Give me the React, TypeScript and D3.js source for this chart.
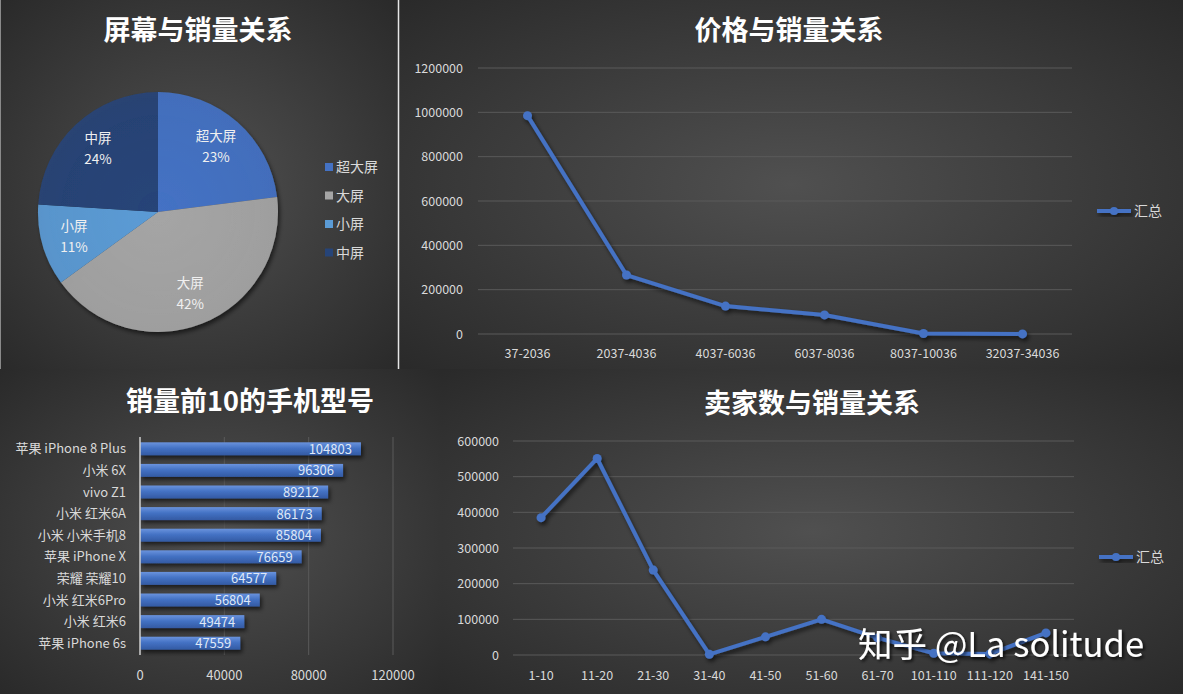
import React from 'react';
import { arc, line, pie, scaleBand, scaleLinear } from 'd3';

// 屏幕 pie
const screenLabels = ['超大屏', '大屏', '小屏', '中屏'];
const screenShares = [23, 42, 11, 24];
const screenColors = ['#4472C4', '#A5A5A5', '#5B9BD5', '#264478'];

// 价格与销量
const priceBins = ['37-2036', '2037-4036', '4037-6036', '6037-8036', '8037-10036', '32037-34036'];
const priceSales = [985000, 266000, 126000, 86000, 2000, 500];
const priceTicks = [0, 200000, 400000, 600000, 800000, 1000000, 1200000];

// 销量前10
const phoneModels = [
  '苹果 iPhone 8 Plus',
  '小米 6X',
  'vivo Z1',
  '小米 红米6A',
  '小米 小米手机8',
  '苹果 iPhone X',
  '荣耀 荣耀10',
  '小米 红米6Pro',
  '小米 红米6',
  '苹果 iPhone 6s',
];
const phoneSales = [104803, 96306, 89212, 86173, 85804, 76659, 64577, 56804, 49474, 47559];
const phoneTicks = [0, 40000, 80000, 120000];

// 卖家数与销量
const sellerBins = ['1-10', '11-20', '21-30', '31-40', '41-50', '51-60', '61-70', '101-110', '111-120', '141-150'];
const sellerSales = [385000, 551000, 238000, 2000, 51000, 100000, 48000, 5000, 3000, 62000];
const sellerTicks = [0, 100000, 200000, 300000, 400000, 500000, 600000];

const CJK = '"Noto Sans CJK SC", "Noto Sans", sans-serif';
const LABEL = '#d9d9d9';
const GRID = '#5a5a5a';
const BLUE = '#4472C4';

function Panel({ x, y, w, h }: { x: number; y: number; w: number; h: number }) {
  return <rect x={x} y={y} width={w} height={h} fill="url(#bg)" />;
}

function Title({ x, y, text }: { x: number; y: number; text: string }) {
  return (
    <text x={x} y={y} textAnchor="middle" fill="#fff" fontSize={27} fontWeight="bold" fontFamily={CJK}>
      {text}
    </text>
  );
}

function PieChart() {
  const cx = 158;
  const cy = 212;
  const r = 120;
  const arcs = pie<number>().sort(null)(screenShares);
  const shape = arc<any>().innerRadius(0).outerRadius(r);
  const labelArc = arc<any>().innerRadius(r * 0.73).outerRadius(r * 0.73);
  return (
    <g>
      <Title x={198} y={40} text="屏幕与销量关系" />
      <g transform={`translate(${cx},${cy})`} filter="url(#shadow)">
        {arcs.map((a, i) => (
          <path key={i} d={shape(a) || ''} fill={`url(#pie${i})`} />
        ))}
      </g>
      <g transform={`translate(${cx},${cy})`}>
        {arcs.map((a, i) => {
          const [lx, ly] = labelArc.centroid(a);
          return (
            <text key={i} x={lx} y={ly} textAnchor="middle" fill="#f0f0f0" fontSize={13.5} fontFamily={CJK}>
              <tspan x={lx} dy={-5}>{screenLabels[i]}</tspan>
              <tspan x={lx} dy={21}>{screenShares[i]}%</tspan>
            </text>
          );
        })}
      </g>
      {screenLabels.map((s, i) => (
        <g key={s} transform={`translate(325,${167 + i * 28.5})`}>
          <rect x={0} y={-4} width={8} height={8} fill={screenColors[i]} />
          <text x={11} y={5} fill={LABEL} fontSize={14} fontFamily={CJK}>
            {s}
          </text>
        </g>
      ))}
    </g>
  );
}

interface LineProps {
  cats: string[];
  values: number[];
  ticks: number[];
  x0: number;
  x1: number;
  yTop: number;
  yBottom: number;
  labelRight: number;
  xLabelY: number;
  legendX: number;
  legendY: number;
}

function LineChart({ cats, values, ticks, x0, x1, yTop, yBottom, labelRight, xLabelY, legendX, legendY }: LineProps) {
  const x = scaleBand<string>().domain(cats).range([x0, x1]);
  const y = scaleLinear().domain([0, ticks[ticks.length - 1]]).range([yBottom, yTop]);
  const cxOf = (c: string) => (x(c) as number) + x.bandwidth() / 2;
  const path = line<number>()
    .x((_, i) => cxOf(cats[i]))
    .y((d) => y(d))(values);
  return (
    <g fontFamily={CJK}>
      {ticks.map((t) => (
        <g key={t}>
          <line x1={x0} x2={x1} y1={y(t)} y2={y(t)} stroke={GRID} strokeWidth={1} />
          <text x={labelRight} y={y(t) + 4.5} textAnchor="end" fill={LABEL} fontSize={12.5}>
            {t}
          </text>
        </g>
      ))}
      {cats.map((c) => (
        <text key={c} x={cxOf(c)} y={xLabelY} textAnchor="middle" fill={LABEL} fontSize={12.5}>
          {c}
        </text>
      ))}
      <g filter="url(#shadow)">
        <path d={path || ''} fill="none" stroke={BLUE} strokeWidth={4} strokeLinejoin="round" />
        {values.map((v, i) => (
          <circle key={i} cx={cxOf(cats[i])} cy={y(v)} r={4.5} fill={BLUE} />
        ))}
      </g>
      <g filter="url(#shadow)">
        <line x1={legendX} x2={legendX + 34} y1={legendY} y2={legendY} stroke={BLUE} strokeWidth={4} />
        <circle cx={legendX + 17} cy={legendY} r={4} fill={BLUE} />
      </g>
      <text x={legendX + 37} y={legendY + 5} fill={LABEL} fontSize={14}>
        汇总
      </text>
    </g>
  );
}

function BarChart() {
  const x = scaleLinear().domain([0, 120000]).range([140, 393]);
  const y = scaleBand<string>()
    .domain(phoneModels)
    .range([438, 654])
    .paddingInner(0.4)
    .paddingOuter(0.2);
  return (
    <g fontFamily={CJK}>
      <Title x={250} y={411} text="销量前10的手机型号" />
      {phoneTicks.map((t) => (
        <g key={t}>
          {t > 0 && <line x1={x(t)} x2={x(t)} y1={437} y2={655} stroke={GRID} />}
          <text x={x(t)} y={680} textAnchor="middle" fill={LABEL} fontSize={13}>
            {t}
          </text>
        </g>
      ))}
      <g filter="url(#shadow)">
        {phoneModels.map((m, i) => (
          <rect key={m} x={x(0)} y={y(m)} width={x(phoneSales[i]) - x(0)} height={y.bandwidth()} fill="url(#bar)" />
        ))}
      </g>
      <line x1={140} x2={140} y1={437} y2={655} stroke="#cfcfcf" strokeWidth={1.5} />
      {phoneModels.map((m, i) => {
        const cy = (y(m) as number) + y.bandwidth() / 2;
        return (
          <g key={m}>
            <text x={126} y={cy + 4.5} textAnchor="end" fill={LABEL} fontSize={13}>
              {m}
            </text>
            <text x={x(phoneSales[i]) - 9} y={cy + 5} textAnchor="end" fill="#dfe8f7" fontSize={13}>
              {phoneSales[i]}
            </text>
          </g>
        );
      })}
    </g>
  );
}

export default function App() {
  return (
    <svg width={1183} height={694} style={{ position: 'absolute', left: 0, top: 0, display: 'block' }}>
      <defs>
        <radialGradient id="bg" cx="50%" cy="50%" r="70%">
          <stop offset="0%" stopColor="#505050" />
          <stop offset="100%" stopColor="#2a2a2a" />
        </radialGradient>
        <linearGradient id="bar" x1="0" y1="0" x2="0" y2="1">
          <stop offset="0%" stopColor="#6a93dd" />
          <stop offset="45%" stopColor="#4472C4" />
          <stop offset="100%" stopColor="#335aa3" />
        </linearGradient>
        {screenColors.map((c, i) => (
          <radialGradient key={i} id={`pie${i}`} cx="0" cy="0" r="120" gradientUnits="userSpaceOnUse">
            <stop offset="0%" stopColor={c} />
            <stop offset="100%" stopColor={c} stopOpacity={0.92} />
          </radialGradient>
        ))}
        <filter id="shadow" x="-20%" y="-20%" width="140%" height="140%">
          <feDropShadow dx={2} dy={3} stdDeviation={2} floodColor="#000" floodOpacity={0.6} />
        </filter>
        <filter id="wm" x="-10%" y="-20%" width="120%" height="140%">
          <feDropShadow dx={2} dy={2} stdDeviation={1.5} floodColor="#000" floodOpacity={0.7} />
        </filter>
      </defs>
      <rect width={1183} height={694} fill="#2c2c2c" />
      <Panel x={0} y={0} w={398} h={369} />
      <Panel x={399} y={0} w={784} h={369} />
      <Panel x={0} y={369} w={442} h={325} />
      <Panel x={442} y={369} w={741} h={325} />
      <line x1={0.5} x2={0.5} y1={0} y2={369} stroke="#8a8a8a" />
      <line x1={398.5} x2={398.5} y1={0} y2={369} stroke="#e6e6e6" strokeWidth={1.5} />

      <PieChart />

      <Title x={789} y={40} text="价格与销量关系" />
      <LineChart
        cats={priceBins}
        values={priceSales}
        ticks={priceTicks}
        x0={478}
        x1={1072}
        yTop={68}
        yBottom={334}
        labelRight={463}
        xLabelY={358}
        legendX={1097}
        legendY={211}
      />

      <BarChart />

      <Title x={812} y={413} text="卖家数与销量关系" />
      <LineChart
        cats={sellerBins}
        values={sellerSales}
        ticks={sellerTicks}
        x0={513}
        x1={1074}
        yTop={441}
        yBottom={655}
        labelRight={499}
        xLabelY={680}
        legendX={1099}
        legendY={557}
      />

      <text x={858} y={657} fill="#fff" fontSize={34.5} fontFamily={CJK} filter="url(#wm)">
        知乎 @La solitude
      </text>
    </svg>
  );
}
